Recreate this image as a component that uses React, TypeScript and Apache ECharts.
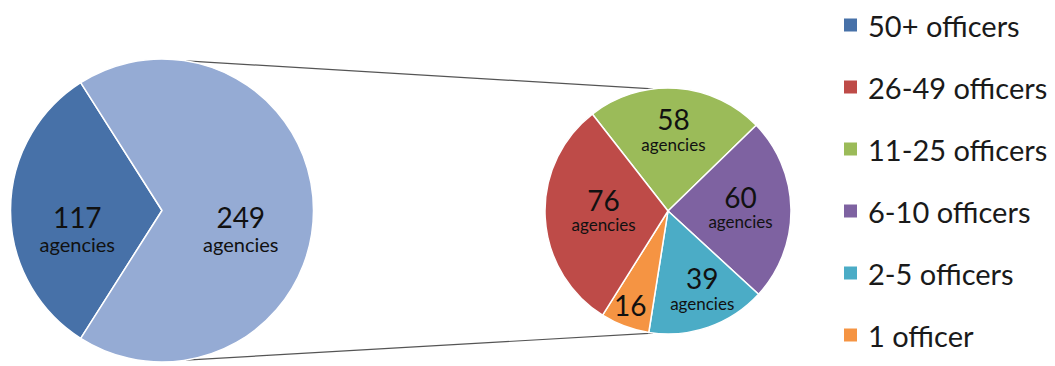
import React, { useEffect, useRef } from "react";
import * as echarts from "echarts";

// ---- data ----
const mainNames = ["50+ officers", "Under 50 officers"];
const mainValues = [117, 249];
const detailNames = ["11-25 officers", "6-10 officers", "2-5 officers", "1 officer", "26-49 officers"];
const detailValues = [58, 60, 39, 16, 76];
const legendOrder = ["50+ officers", "26-49 officers", "11-25 officers", "6-10 officers", "2-5 officers", "1 officer"];
const unitLabel = "agencies";

// ---- styling ----
const mainColors = ["#4771A8", "#95ABD4"];
const detailColors = ["#9BBB59", "#7E62A1", "#4BACC6", "#F59443", "#BE4B48"];
const mainLabelShift = [[-6, 17], [0, 17]];
const detailLabelShift = [[1, -18], [8, -4], [13, 16], [-15, 34], [0, -5]];
const detailNoUnit = [false, false, false, true, false];

const FONT = "Lato, 'Open Sans', sans-serif";
const L = { cx: 162, cy: 210.5, r: 151.5 };
const R = { cx: 668, cy: 211, r: 123 };

export default function App() {
  const ref = useRef<HTMLDivElement>(null);
  useEffect(() => {
    document.body.style.margin = "0";
    if (!ref.current) return;
    const chart = echarts.init(ref.current, undefined, { renderer: "svg" });
    const total = mainValues.reduce((a, b) => a + b, 0);
    const mainStart = 180 + (mainValues[0] / total) * 180;
    const deg = Math.PI / 180;
    const lp = (a: number) => [L.cx + L.r * Math.cos(a * deg), L.cy - L.r * Math.sin(a * deg)];
    const rp = (a: number) => [R.cx + R.r * Math.cos(a * deg), R.cy - R.r * Math.sin(a * deg)];
    const t1 = lp(81), t2 = rp(97), b1 = lp(-81), b2 = rp(-97);

    chart.setOption({
      animation: false,
      backgroundColor: "#ffffff",
      textStyle: { fontFamily: FONT },
      legend: {
        orient: "vertical",
        left: 842,
        top: 10,
        padding: 0,
        itemWidth: 15,
        itemHeight: 15,
        itemGap: 32,
        icon: "rect",
        selectedMode: false,
        data: legendOrder,
        textStyle: { fontSize: 29, lineHeight: 30, color: "#1a1a1a", fontFamily: FONT, padding: [0, 0, 0, 5] },
      },
      graphic: [
        { type: "line", z: 0, shape: { x1: t1[0], y1: t1[1], x2: t2[0], y2: t2[1] }, style: { stroke: "#555", lineWidth: 1.2 } },
        { type: "line", z: 0, shape: { x1: b1[0], y1: b1[1], x2: b2[0], y2: b2[1] }, style: { stroke: "#555", lineWidth: 1.2 } },
      ],
      series: [
        {
          type: "pie",
          center: [L.cx, L.cy],
          radius: [0, L.r],
          startAngle: mainStart,
          clockwise: true,
          avoidLabelOverlap: false,
          itemStyle: { borderColor: "#ffffff", borderWidth: 1.5 },
          label: {
            position: "inside",
            formatter: (p: any) => `{n|${p.value}}\n{a|${unitLabel}}`,
            rich: {
              n: { fontSize: 28, lineHeight: 32, color: "#111", fontFamily: FONT },
              a: { fontSize: 20, lineHeight: 22, color: "#111", fontFamily: FONT },
            },
          },
          labelLine: { show: false },
          labelLayout: (p: any) => ({ dx: mainLabelShift[p.dataIndex][0], dy: mainLabelShift[p.dataIndex][1] }),
          emphasis: { disabled: true },
          data: mainNames.map((n, i) => ({ name: n, value: mainValues[i], itemStyle: { color: mainColors[i] } })),
        },
        {
          type: "pie",
          center: [R.cx, R.cy],
          radius: [0, R.r],
          startAngle: 128,
          clockwise: true,
          avoidLabelOverlap: false,
          itemStyle: { borderColor: "#ffffff", borderWidth: 1.5 },
          label: {
            position: "inside",
            formatter: (p: any) => (detailNoUnit[p.dataIndex] ? `{n|${p.value}}` : `{n|${p.value}}\n{a|${unitLabel}}`),
            rich: {
              n: { fontSize: 28, lineHeight: 31, color: "#111", fontFamily: FONT },
              a: { fontSize: 17, lineHeight: 19, color: "#111", fontFamily: FONT },
            },
          },
          labelLine: { show: false },
          labelLayout: (p: any) => ({ dx: detailLabelShift[p.dataIndex][0], dy: detailLabelShift[p.dataIndex][1] }),
          emphasis: { disabled: true },
          data: detailNames.map((n, i) => ({ name: n, value: detailValues[i], itemStyle: { color: detailColors[i] } })),
        },
      ],
    });
    return () => chart.dispose();
  }, []);
  return <div ref={ref} style={{ width: 1055, height: 366 }} />;
}
